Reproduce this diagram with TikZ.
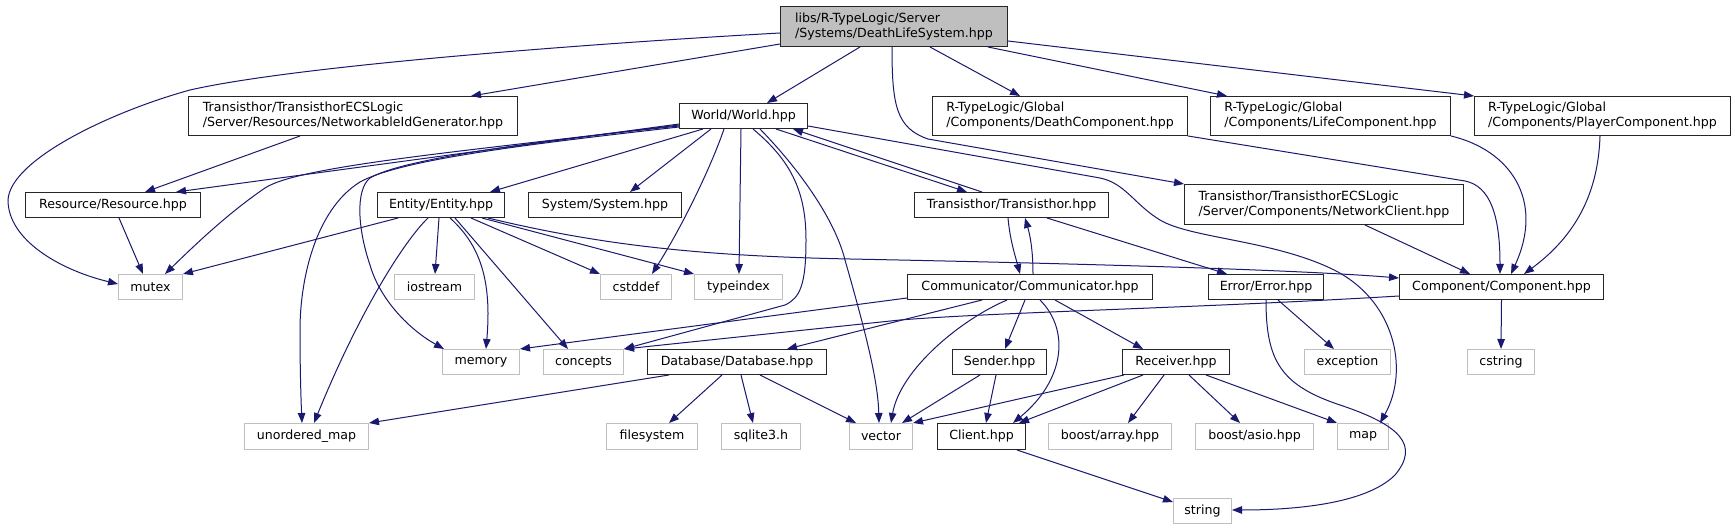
\documentclass[tikz,border=0pt]{standalone}
\usepackage{fontspec}
\setmainfont{DejaVu Sans}
\usetikzlibrary{arrows.meta}
\definecolor{edgecol}{HTML}{191970}
\definecolor{mainfill}{HTML}{BFBFBF}
\definecolor{sysborder}{HTML}{BFBFBF}
\begin{document}
\begin{tikzpicture}[x=1pt,y=-1pt,
  font=\fontsize{12.6}{15}\selectfont,
  nd/.style={draw=black!85, line width=1pt, fill=white, inner sep=0pt, anchor=north west, align=left},
  sys/.style={nd, draw=sysborder},
  mn/.style={nd, fill=mainfill},
  e/.style={draw=edgecol, line width=1pt, -{Triangle[length=10pt,width=7.5pt]}}]
\fill[white] (0,0) rectangle (1735,529);
\useasboundingbox (0,0) rectangle (1735,529);
% nodes
\node[mn, minimum width=227pt, minimum height=40pt] (main) at (780,6) {libs/R-TypeLogic/Server\\/Systems/DeathLifeSystem.hpp};
\node[nd, minimum width=329pt, minimum height=39pt] (netid) at (188,96) {Transisthor/TransisthorECSLogic\\/Server/Resources/NetworkableIdGenerator.hpp};
\node[nd, minimum width=128pt, minimum height=25pt] (world) at (679,103) {World/World.hpp};
\node[nd, minimum width=255pt, minimum height=39pt] (death) at (932,96) {R-TypeLogic/Global\\/Components/DeathComponent.hpp};
\node[nd, minimum width=240pt, minimum height=39pt] (life) at (1210,96) {R-TypeLogic/Global\\/Components/LifeComponent.hpp};
\node[nd, minimum width=256pt, minimum height=39pt] (player) at (1474,96) {R-TypeLogic/Global\\/Components/PlayerComponent.hpp};
\node[nd, minimum width=175pt, minimum height=25pt] (resource) at (25,192) {Resource/Resource.hpp};
\node[nd, minimum width=127pt, minimum height=25pt] (entity) at (377,192) {Entity/Entity.hpp};
\node[nd, minimum width=153pt, minimum height=25pt] (system) at (528,192) {System/System.hpp};
\node[nd, minimum width=194pt, minimum height=25pt] (transisthor) at (914,192) {Transisthor/Transisthor.hpp};
\node[nd, minimum width=279pt, minimum height=40pt] (netclient) at (1184,184) {Transisthor/TransisthorECSLogic\\/Server/Components/NetworkClient.hpp};
\node[sys, minimum width=64pt, minimum height=25pt] (mutex) at (118,274) {mutex};
\node[sys, minimum width=80pt, minimum height=25pt] (iostream) at (394,274) {iostream};
\node[sys, minimum width=71pt, minimum height=25pt] (cstddef) at (600,274) {cstddef};
\node[sys, minimum width=88pt, minimum height=25pt] (typeindex) at (694,274) {typeindex};
\node[nd, minimum width=245pt, minimum height=25pt] (communicator) at (907,274) {Communicator/Communicator.hpp};
\node[nd, minimum width=115pt, minimum height=25pt] (error) at (1208,274) {Error/Error.hpp};
\node[nd, minimum width=204pt, minimum height=25pt] (component) at (1399,274) {Component/Component.hpp};
\node[sys, minimum width=77pt, minimum height=25pt] (memory) at (442,349) {memory};
\node[sys, minimum width=80pt, minimum height=25pt] (concepts) at (543,349) {concepts};
\node[nd, minimum width=179pt, minimum height=25pt] (database) at (647,349) {Database/Database.hpp};
\node[nd, minimum width=94pt, minimum height=25pt] (sender) at (952,349) {Sender.hpp};
\node[nd, minimum width=107pt, minimum height=25pt] (receiver) at (1122,349) {Receiver.hpp};
\node[sys, minimum width=86pt, minimum height=25pt] (exception) at (1304,349) {exception};
\node[sys, minimum width=67pt, minimum height=25pt] (cstring) at (1467,349) {cstring};
\node[sys, minimum width=124pt, minimum height=26pt] (unordered) at (244,423) {unordered\_map};
\node[sys, minimum width=91pt, minimum height=26pt] (filesystem) at (606,423) {filesystem};
\node[sys, minimum width=79pt, minimum height=26pt] (sqlite) at (721,423) {sqlite3.h};
\node[sys, minimum width=63pt, minimum height=26pt] (vector) at (849,423) {vector};
\node[nd, minimum width=88pt, minimum height=26pt] (client) at (937,423) {Client.hpp};
\node[sys, minimum width=123pt, minimum height=26pt] (boostarray) at (1048,423) {boost/array.hpp};
\node[sys, minimum width=118pt, minimum height=26pt] (boostasio) at (1195,423) {boost/asio.hpp};
\node[sys, minimum width=51pt, minimum height=26pt] (map) at (1337,423) {map};
\node[sys, minimum width=58pt, minimum height=25pt] (string) at (1173,498) {string};
% edges from main
\draw[e] (main.west |- 0,33) .. controls (600,43) and (300,65) .. (190,90) .. controls (110,112) and (10,160) .. (8,200) .. controls (8,240) and (60,270) .. (mutex.west |- 0,284);
\draw[e] (main.west |- 0,44) -- (netid.north -| 471,0);
\draw[e] (main.south -| 860,0) -- (world.north -| 767,0);
\draw[e] (main.south -| 930,0) -- (death.north -| 1020,0);
\draw[e] (main.south -| 988,0) -- (life.north -| 1227,0);
\draw[e] (main.east |- 0,41) -- (player.north west);
\draw[e] (main.south -| 892,0) .. controls (892,105) and (896,128) .. (928,139) -- (netclient.north west);
% netid, resource
\draw[e] (netid.south -| 300,0) -- (resource.north -| 145,0);
\draw[e] (resource.south -| 119,0) -- (mutex.north -| 143,0);
% world
\draw[e] (world.west |- 0,124) -- (resource.north -| 176,0);
\draw[e] (world.west |- 0,125) .. controls (480,150) and (300,165) .. (265,188) .. controls (230,212) and (200,240) .. (mutex.north -| 165,0);
\draw[e] (world.west |- 0,127) .. controls (520,145) and (400,160) .. (360,182) .. controls (315,210) and (300,280) .. (300,330) .. controls (300,370) and (301,400) .. (unordered.north -| 302,0);
\draw[e] (world.west |- 0,126) .. controls (520,143) and (400,160) .. (370,178) .. controls (355,190) and (358,230) .. (370,265) .. controls (380,300) and (410,330) .. (memory.north -| 444,0);
\draw[e] (world.south -| 703,0) -- (entity.north -| 490,0);
\draw[e] (world.south -| 711,0) -- (system.north -| 630,0);
\draw[e] (world.south -| 724,0) .. controls (710,170) and (680,230) .. (cstddef.north -| 652,0);
\draw[e] (world.south -| 741,0) -- (typeindex.north -| 739,0);
\draw[e] (world.south -| 753,0) .. controls (790,160) and (806,190) .. (806,240) .. controls (806,285) and (800,298) .. (785,305) -- (concepts.north east);
\draw[e] (world.south -| 760,0) .. controls (800,170) and (835,220) .. (845,260) .. controls (865,330) and (878,380) .. (vector.north -| 879,0);
\draw[e] (world.south -| 776,0) -- (transisthor.north -| 967,0);
\draw[e] (transisthor.north -| 982,0) -- (world.south -| 793,0);
\draw[e] (world.east |- 0,126) -- (1100,178) .. controls (1125,183) and (1135,205) .. (1160,220) .. controls (1190,238) and (1270,240) .. (1330,268) .. controls (1395,298) and (1410,370) .. (map.north -| 1380,0);
% entity
\draw[e] (entity.south -| 398,0) -- (mutex.north east);
\draw[e] (entity.south -| 428,0) .. controls (405,240) and (360,310) .. (unordered.north -| 314,0);
\draw[e] (entity.south -| 439,0) -- (iostream.north -| 435,0);
\draw[e] (entity.south -| 450,0) .. controls (480,245) and (492,280) .. (memory.north -| 486,0);
\draw[e] (entity.south -| 455,0) -- (concepts.north -| 568,0);
\draw[e] (entity.south -| 471,0) -- (cstddef.north west);
\draw[e] (entity.south -| 482,0) -- (typeindex.north west);
\draw[e] (entity.south -| 488,0) .. controls (600,245) and (700,256) .. (850,259) .. controls (1100,264) and (1300,270) .. (component.west |- 0,278);
% transisthor
\draw[e] (transisthor.south -| 1008,0) .. controls (1010,240) and (1015,255) .. (communicator.north -| 1020,0);
\draw[e] (communicator.north -| 1033,0) .. controls (1033,250) and (1030,235) .. (transisthor.south -| 1025,0);
\draw[e] (transisthor.south -| 1047,0) -- (error.north -| 1227,0);
% component inputs
\draw[e] (death.south east) -- (1465,181) .. controls (1490,186) and (1500,215) .. (component.north -| 1500,0);
\draw[e] (life.south east) .. controls (1510,150) and (1545,200) .. (component.north -| 1511,0);
\draw[e] (player.south -| 1600,0) .. controls (1598,200) and (1570,240) .. (component.north -| 1524,0);
\draw[e] (netclient.south -| 1365,0) -- (component.north -| 1470,0);
\draw[e] (component.west |- 0,296) .. controls (1200,308) and (1000,312) .. (900,320) -- (concepts.north east);
\draw[e] (component.south) -- (cstring.north);
% communicator
\draw[e] (communicator.west |- 0,298) -- (memory.north east);
\draw[e] (communicator.south -| 982,0) -- (database.north -| 787,0);
\draw[e] (communicator.south -| 1007,0) .. controls (960,320) and (900,370) .. (vector.north -| 891,0);
\draw[e] (communicator.south -| 1025,0) -- (sender.north -| 1005,0);
\draw[e] (communicator.south -| 1040,0) .. controls (1070,330) and (1065,380) .. (client.north -| 1013,0);
\draw[e] (communicator.south -| 1055,0) -- (receiver.north -| 1143,0);
% database
\draw[e] (database.south -| 669,0) -- (unordered.north east);
\draw[e] (database.south -| 722,0) -- (filesystem.north -| 669,0);
\draw[e] (database.south -| 741,0) -- (sqlite.north -| 753,0);
\draw[e] (database.south -| 760,0) -- (vector.north -| 856,0);
% sender
\draw[e] (sender.south -| 980,0) -- (vector.north -| 902,0);
\draw[e] (sender.south -| 996,0) -- (client.north -| 986,0);
% receiver
\draw[e] (receiver.south -| 1124,0) -- (vector.north east);
\draw[e] (receiver.south -| 1143,0) -- (client.north -| 1019,0);
\draw[e] (receiver.south -| 1164,0) -- (boostarray.north -| 1128,0);
\draw[e] (receiver.south -| 1189,0) -- (boostasio.north -| 1240,0);
\draw[e] (receiver.south -| 1206,0) -- (map.north west);
% error
\draw[e] (error.south -| 1278,0) -- (exception.north -| 1334,0);
\draw[e] (error.south -| 1266,0) .. controls (1266,360) and (1280,385) .. (1340,405) .. controls (1400,425) and (1420,445) .. (1395,475) .. controls (1365,505) and (1290,510) .. (string.east |- 0,510);
% client
\draw[e] (client.south -| 1017,0) -- (string.west |- 0,502);
\end{tikzpicture}
\end{document}
